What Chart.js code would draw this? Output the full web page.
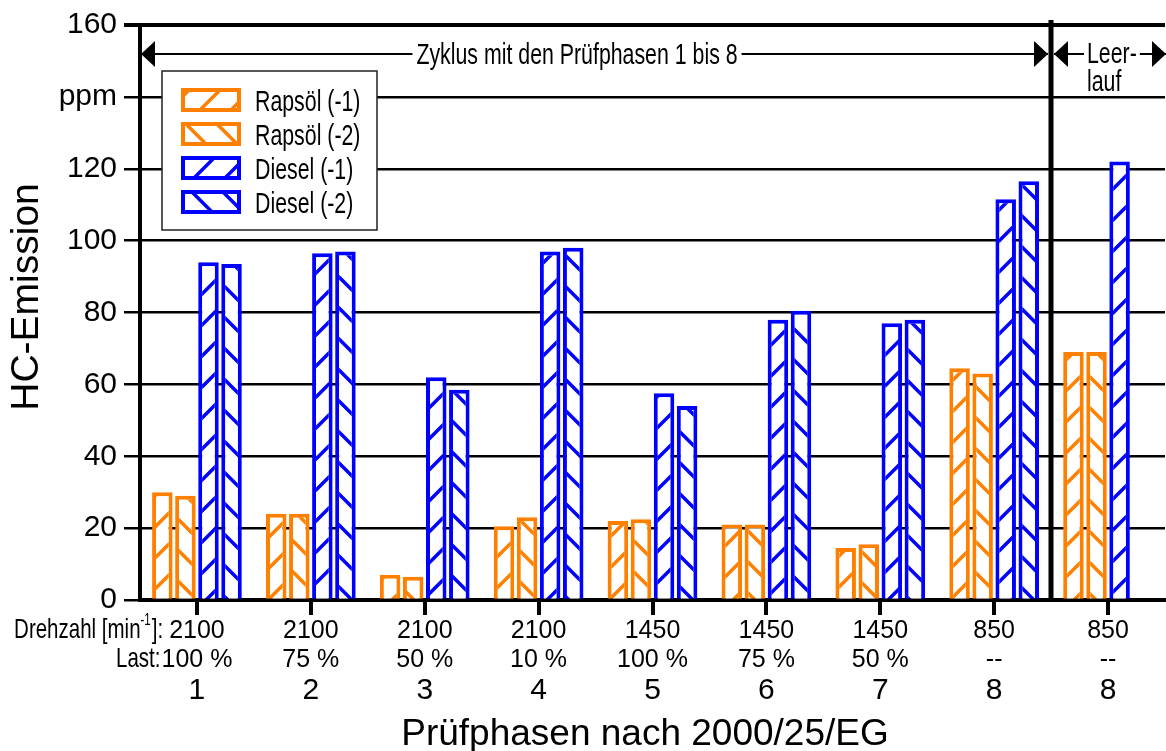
<!DOCTYPE html>
<html>
<head>
<meta charset="utf-8">
<script src="https://cdn.jsdelivr.net/npm/chart.js@4/dist/chart.umd.min.js"></script>
<style>
  html, body { margin: 0; padding: 0; background: #fff; overflow: hidden; }
  canvas { display: block; }
</style>
</head>
<body>
<canvas id="c" width="1166" height="751"></canvas>
<script>
// Test phases (category axis) and their operating points
const phases = ['1', '2', '3', '4', '5', '6', '7', '8', '8'];
const speeds = ['2100', '2100', '2100', '2100', '1450', '1450', '1450', '850', '850'];
const loads  = ['100 %', '75 %', '50 %', '10 %', '100 %', '75 %', '50 %', '--', '--'];

// HC emission in ppm
const rapsoel1 = [30, 24, 7, 20.5, 22, 21, 14.5, 64.5, 69];
const rapsoel2 = [29, 24, 6.5, 23, 22.5, 21, 15.5, 63, 69];
const diesel1  = [94, 96.5, 62, 97, 57.5, 78, 77, 111.5, 122];
const diesel2  = [93.5, 97, 58.5, 98, 54, 80.5, 78, 116.5, null];

const seriesNames = ['Rapsöl (-1)', 'Rapsöl (-2)', 'Diesel (-1)', 'Diesel (-2)'];

// y axis ticks; 140 carries the unit instead of a number
const yTickValues = [0, 20, 40, 60, 80, 100, 120, 140, 160];
const yTickLabels = ['0', '20', '40', '60', '80', '100', '120', 'ppm', '160'];

const ORANGE = '#FF8000';
const BLUE = '#0000FF';
const SANS = "'Liberation Sans', Arial, Helvetica, sans-serif";

// Narrow face for annotations, with a squeezed fallback
const NARROW_OK = (() => {
  const c = document.createElement('canvas').getContext('2d');
  c.font = '40px monospace';
  const a = c.measureText('Rapsöl Zyklus').width;
  c.font = "40px 'Liberation Sans Narrow', monospace";
  return c.measureText('Rapsöl Zyklus').width !== a;
})();
const TALL = 1.12; // narrow captions are set a little taller than wide

function narrowFont(ctx, size) {
  ctx.font = NARROW_OK ? `${size}px 'Liberation Sans Narrow', 'Arial Narrow', sans-serif` : `${size}px ${SANS}`;
}
function narrowWidth(ctx, text, size) {
  ctx.save();
  narrowFont(ctx, size);
  const w = ctx.measureText(text).width * (NARROW_OK ? 1 : 0.82);
  ctx.restore();
  return w;
}
function narrowText(ctx, text, x, y, size, align) {
  ctx.save();
  ctx.translate(x, y);
  ctx.scale(NARROW_OK ? 1 : 0.82, TALL);
  narrowFont(ctx, size);
  ctx.textAlign = align || 'left';
  ctx.textBaseline = 'alphabetic';
  ctx.fillStyle = '#000';
  ctx.fillText(text, 0, 0);
  ctx.restore();
}

// Diagonal hatch on white; '/' or '\'
function hatch(color, dir) {
  const s = 31;
  const t = document.createElement('canvas');
  t.width = s; t.height = s;
  const g = t.getContext('2d');
  g.fillStyle = '#fff';
  g.fillRect(0, 0, s, s);
  g.strokeStyle = color;
  g.lineWidth = 3.5;
  g.beginPath();
  for (const c of [-s, 0, s, 2 * s]) {
    if (dir === '/') {
      g.moveTo(-5, c + 5); g.lineTo(c + 5, -5);
    } else {
      g.moveTo(-5, -5 - c); g.lineTo(s + 5, s + 5 - c);
    }
  }
  g.stroke();
  return g.createPattern(t, 'repeat');
}

function arrowHead(ctx, tipX, y, dir) {
  // dir = 1 points right, -1 points left
  ctx.beginPath();
  ctx.moveTo(tipX, y);
  ctx.lineTo(tipX - dir * 14, y - 13);
  ctx.lineTo(tipX - dir * 14, y + 13);
  ctx.closePath();
  ctx.fill();
}

const overlay = {
  id: 'overlay',
  afterDraw(chart) {
    const { ctx, chartArea: a, scales: { x, y } } = chart;
    ctx.save();
    ctx.fillStyle = '#000';
    ctx.strokeStyle = '#000';

    // tick marks at the phase centres
    ctx.lineWidth = 4;
    phases.forEach((_, i) => {
      const px = Math.round(x.getPixelForValue(i));
      ctx.beginPath();
      ctx.moveTo(px, a.bottom);
      ctx.lineTo(px, a.bottom + 15);
      ctx.stroke();
    });

    // separator between cycle and idle
    const sep = Math.round((x.getPixelForValue(7) + x.getPixelForValue(8)) / 2);
    ctx.lineWidth = 5;
    ctx.beginPath();
    ctx.moveTo(sep, a.top - 5);
    ctx.lineTo(sep, a.bottom);
    ctx.stroke();

    // range arrows
    const ay = Math.round(y.getPixelForValue(152));
    ctx.lineWidth = 2;
    ctx.beginPath();
    ctx.moveTo(a.left, ay); ctx.lineTo(sep - 3, ay);
    ctx.moveTo(sep + 3, ay); ctx.lineTo(chart.width, ay);
    ctx.stroke();
    arrowHead(ctx, a.left + 1, ay, -1);
    arrowHead(ctx, sep - 3, ay, 1);
    arrowHead(ctx, sep + 3, ay, -1);
    arrowHead(ctx, chart.width, ay, 1);

    // range captions
    const cap = 'Zyklus mit den Prüfphasen 1 bis 8';
    const cw = narrowWidth(ctx, cap, 26);
    const cx = a.left + 437;
    ctx.fillStyle = '#fff';
    ctx.fillRect(cx - cw / 2 - 4, ay - 15, cw + 8, 30);
    narrowText(ctx, cap, cx, ay + 10, 26, 'center');

    const lx = sep + 36;
    const w1 = narrowWidth(ctx, 'Leer-', 26);
    ctx.fillStyle = '#fff';
    ctx.fillRect(lx - 3, ay - 15, w1 + 6, 26);
    narrowText(ctx, 'Leer-', lx, ay + 9, 26, 'left');
    const w2 = narrowWidth(ctx, 'lauf', 26);
    ctx.fillStyle = '#fff';
    ctx.fillRect(lx - 2, ay + 14, w2 + 4, 28);
    narrowText(ctx, 'lauf', lx, ay + 37, 26, 'left');

    // legend
    const lbx = a.left + 22, lby = a.top + 46, lbw = 215, lbh = 159;
    ctx.fillStyle = '#fff';
    ctx.fillRect(lbx, lby, lbw, lbh);
    ctx.strokeStyle = '#222';
    ctx.lineWidth = 1.5;
    ctx.strokeRect(lbx, lby, lbw, lbh);
    chart.data.datasets.forEach((ds, i) => {
      const cy = a.top + 75 + i * 34;
      const sx = a.left + 41, sw = 60, sh = 24;
      ctx.fillStyle = ds.backgroundColor;
      ctx.fillRect(sx, cy - sh / 2, sw, sh);
      ctx.strokeStyle = ds.borderColor;
      ctx.lineWidth = 4;
      ctx.strokeRect(sx + 2, cy - sh / 2 + 2, sw - 4, sh - 4);
      narrowText(ctx, ds.label, a.left + 115, cy + 11, 26, 'left');
    });

    // category labels: speed, load, phase
    ctx.fillStyle = '#000';
    ctx.textAlign = 'center';
    ctx.textBaseline = 'alphabetic';
    phases.forEach((p, i) => {
      const px = x.getPixelForValue(i);
      ctx.font = `25px ${SANS}`;
      ctx.fillText(speeds[i], px, 638);
      ctx.fillText(loads[i], px, 667);
      ctx.font = `30px ${SANS}`;
      ctx.fillText(p, px, 699);
    });

    // row captions left of the first phase
    const x0 = x.getPixelForValue(0);
    ctx.font = `25px ${SANS}`;
    const sw0 = ctx.measureText(speeds[0]).width;
    const lw0 = ctx.measureText(loads[0]).width;
    const endR = x0 - sw0 / 2 - 6;
    const tail = ']:';
    const tailW = narrowWidth(ctx, tail, 25);
    narrowText(ctx, tail, endR, 638, 25, 'right');
    const supX = endR - tailW;
    const supW = narrowWidth(ctx, '-1', 14);
    narrowText(ctx, '-1', supX - 1, 625, 14, 'right');
    narrowText(ctx, 'Drehzahl [min', supX - supW - 1, 638, 25, 'right');
    narrowText(ctx, 'Last:', x0 - lw0 / 2 - 1, 667, 25, 'right');

    // axis titles
    ctx.fillStyle = '#000';
    ctx.font = `37px ${SANS}`;
    ctx.textAlign = 'center';
    ctx.fillText('Prüfphasen nach 2000/25/EG', 645, 745);

    ctx.save();
    ctx.translate(27, 297);
    ctx.rotate(-Math.PI / 2);
    ctx.font = `39px ${SANS}`;
    ctx.textAlign = 'center';
    ctx.textBaseline = 'middle';
    ctx.fillText('HC-Emission', 0, 0);
    ctx.restore();

    ctx.restore();
  }
};

const barStyle = { borderWidth: 4, borderSkipped: 'start', categoryPercentage: 0.81, barPercentage: 0.89 };
const datasets = [
  { label: seriesNames[0], data: rapsoel1, backgroundColor: hatch(ORANGE, '/'), borderColor: ORANGE },
  { label: seriesNames[1], data: rapsoel2, backgroundColor: hatch(ORANGE, '\\'), borderColor: ORANGE },
  { label: seriesNames[2], data: diesel1, backgroundColor: hatch(BLUE, '/'), borderColor: BLUE },
  { label: seriesNames[3], data: diesel2, backgroundColor: hatch(BLUE, '\\'), borderColor: BLUE }
].map(d => Object.assign(d, barStyle));

new Chart(document.getElementById('c'), {
  type: 'bar',
  data: { labels: phases, datasets },
  options: {
    responsive: false,
    animation: false,
    devicePixelRatio: 1,
    events: [],
    layout: { padding: { left: 0, top: 25, right: 1, bottom: 143 } },
    plugins: { legend: { display: false }, tooltip: { enabled: false } },
    scales: {
      x: {
        display: true,
        z: 1,
        grid: { display: false },
        ticks: { display: false },
        border: { display: true, color: '#000', width: 4 }
      },
      y: {
        min: 0,
        max: 160,
        afterFit(scale) { scale.width = 140; },
        afterBuildTicks(scale) { scale.ticks = yTickValues.map(v => ({ value: v })); },
        ticks: {
          color: '#000',
          font: { family: SANS, size: 30 },
          padding: 7,
          callback: (v) => yTickLabels[yTickValues.indexOf(v)]
        },
        grid: {
          color: '#000',
          lineWidth: (c) => (c.tick && c.tick.value === 160 ? 4 : 2.5),
          tickLength: 16,
          drawOnChartArea: true
        },
        border: { display: true, color: '#000', width: 4 }
      }
    }
  },
  plugins: [overlay]
});
</script>
</body>
</html>
